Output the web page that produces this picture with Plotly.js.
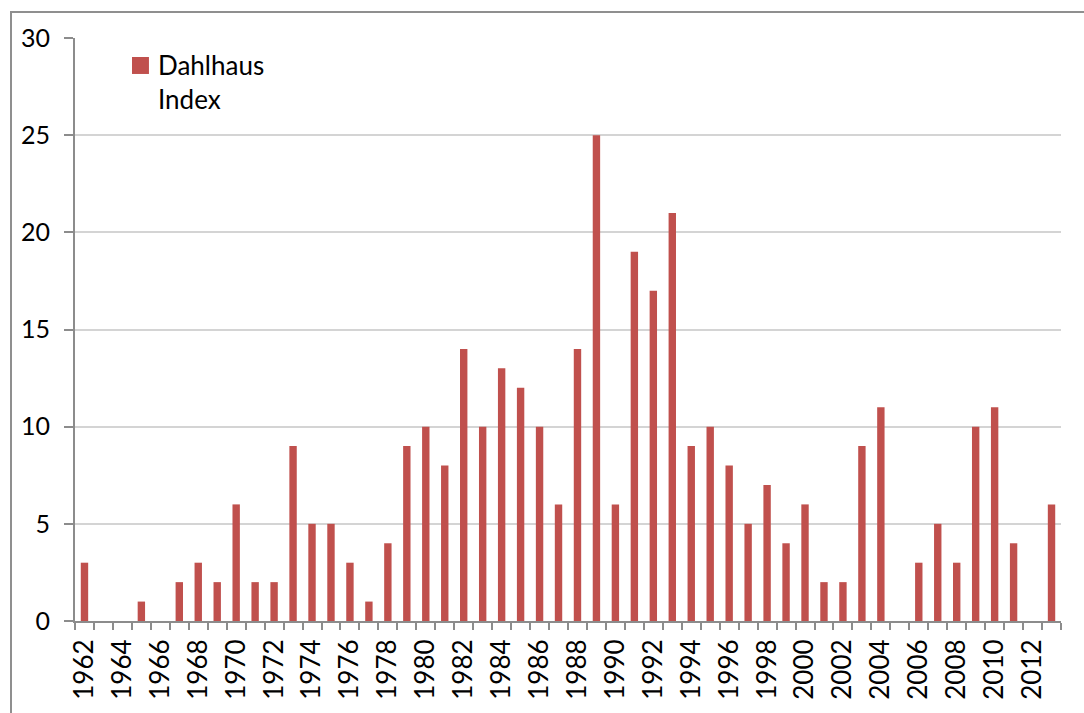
<!DOCTYPE html>
<html>
<head>
<meta charset="utf-8">
<script src="https://cdn.plot.ly/plotly-3.0.1.min.js"></script>
<style>
html,body{margin:0;padding:0;background:#fff;overflow:hidden;}
#chart{width:1084px;height:713px;position:absolute;left:0;top:0;}
#frame{position:absolute;left:10px;top:11px;width:1200px;height:800px;border-left:2px solid #8f8f8f;border-top:2px solid #8f8f8f;pointer-events:none;}
</style>
</head>
<body>
<div id="chart"></div>
<div id="frame"></div>
<script>
const years = [1962,1963,1964,1965,1966,1967,1968,1969,1970,1971,1972,1973,1974,1975,1976,1977,1978,1979,1980,1981,1982,1983,1984,1985,1986,1987,1988,1989,1990,1991,1992,1993,1994,1995,1996,1997,1998,1999,2000,2001,2002,2003,2004,2005,2006,2007,2008,2009,2010,2011,2012,2013];
const dahlhausIndex = [3,0,0,1,0,2,3,2,6,2,2,9,5,5,3,1,4,9,10,8,14,10,13,12,10,6,14,25,6,19,17,21,9,10,8,5,7,4,6,2,2,9,11,0,3,5,3,10,11,4,0,6];
const xTickLabels = [1962,1964,1966,1968,1970,1972,1974,1976,1978,1980,1982,1984,1986,1988,1990,1992,1994,1996,1998,2000,2002,2004,2006,2008,2010,2012];
const yTicks = [0,5,10,15,20,25,30];
const seriesName = 'Dahlhaus<br>Index';
const barColor = '#C0504D';

const font = "Lato, 'Open Sans', sans-serif";
const trace = {
  type: 'bar',
  x: years,
  y: dahlhausIndex,
  name: seriesName,
  marker: {color: barColor},
  width: 0.39,
  showlegend: false
};
const layout = {
  width: 1084, height: 713,
  margin: {l: 75, r: 23, t: 38, b: 92},
  paper_bgcolor: '#fff', plot_bgcolor: '#fff',
  font: {family: font, size: 24, color: '#000'},
  xaxis: {
    type: 'linear',
    range: [1961.5, 2013.5],
    tickmode: 'array',
    tickvals: xTickLabels,
    ticktext: xTickLabels.map(String),
    tickangle: -90,
    ticks: 'outside', ticklen: 0, tickcolor: 'rgba(0,0,0,0)',
    ticklabelstandoff: 6,
    showgrid: false, zeroline: false,
    showline: true, linecolor: '#8c8c8c', linewidth: 2,
    tickfont: {family: font, size: 26, color: '#000'},
    minor: {tickmode: 'linear', tick0: 1961.5, dtick: 1, ticks: 'outside', ticklen: 7, tickcolor: '#8c8c8c', tickwidth: 2, showgrid: false}
  },
  yaxis: {
    range: [0, 30],
    tickmode: 'array', tickvals: yTicks,
    ticks: 'outside', ticklen: 9, tickcolor: '#8c8c8c', tickwidth: 2,
    ticklabelstandoff: 9,
    showgrid: true, gridcolor: '#d4d4d4', gridwidth: 2,
    zeroline: false,
    showline: true, linecolor: '#8c8c8c', linewidth: 2,
    tickfont: {family: font, size: 25, color: '#000'}
  },
  showlegend: false,
  shapes: [{
    type: 'rect', xref: 'paper', yref: 'paper',
    x0: 0.0578, x1: 0.0750, y0: 0.9383, y1: 0.9674,
    fillcolor: barColor, line: {width: 0}
  }],
  annotations: [{
    xref: 'paper', yref: 'paper', x: 0.0822, y: 0.985,
    xanchor: 'left', yanchor: 'top', align: 'left',
    text: seriesName, showarrow: false,
    font: {family: font, size: 26, color: '#000'}
  }]
};
Plotly.newPlot('chart', [trace], layout, {displayModeBar: false, staticPlot: true});
</script>
</body>
</html>
